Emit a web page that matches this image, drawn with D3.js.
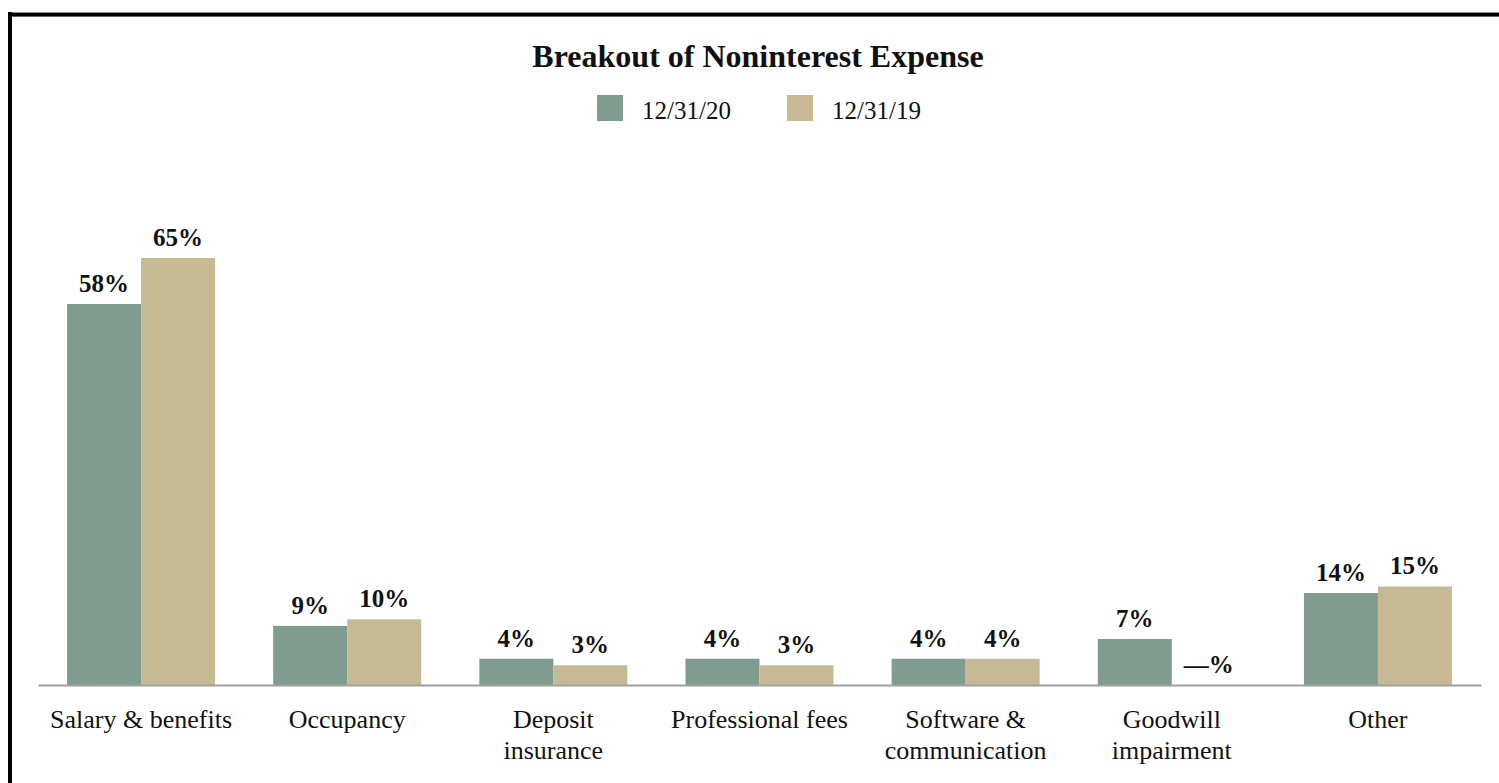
<!DOCTYPE html>
<html>
<head>
<meta charset="utf-8">
<script src="https://cdn.jsdelivr.net/npm/d3@7"></script>
<style>
  html, body { margin: 0; padding: 0; background: #fff; }
  svg { display: block; }
  text { font-family: "Liberation Serif", "Times New Roman", serif; fill: #111; }
</style>
</head>
<body>
<svg id="chart" width="1499" height="783"></svg>
<script>
// Noninterest expense categories and their share (%) per period
const categories = [
  ["Salary & benefits"],
  ["Occupancy"],
  ["Deposit", "insurance"],
  ["Professional fees"],
  ["Software &", "communication"],
  ["Goodwill", "impairment"],
  ["Other"]
];
const seriesNames = ["12/31/20", "12/31/19"];
const values2020 = [58, 9, 4, 4, 4, 7, 14];
const values2019 = [65, 10, 3, 3, 4, 0, 15];
const valueLabels2020 = ["58%", "9%", "4%", "4%", "4%", "7%", "14%"];
const valueLabels2019 = ["65%", "10%", "3%", "3%", "4%", "—%", "15%"];
const colors = ["#7f9c8f", "#c8b995"];

const svg = d3.select("#chart");
const W = 1499, H = 783;

// frame: heavy rule along the top and left edge
svg.append("rect").attr("x", 8).attr("y", 12).attr("width", W - 8).attr("height", 1).attr("fill", "#888");
svg.append("rect").attr("x", 8).attr("y", 13).attr("width", W - 8).attr("height", 3.6).attr("fill", "#000");
svg.append("rect").attr("x", 8).attr("y", 12).attr("width", 4).attr("height", H - 12).attr("fill", "#000");

// title
svg.append("text")
  .attr("x", 758).attr("y", 67)
  .attr("text-anchor", "middle")
  .attr("font-weight", "bold")
  .attr("font-size", 32)
  .text("Breakout of Noninterest Expense");

// legend
const legendX = [597, 787];
seriesNames.forEach((name, i) => {
  svg.append("rect")
    .attr("x", legendX[i]).attr("y", 95)
    .attr("width", 26).attr("height", 26)
    .attr("fill", colors[i]);
  svg.append("text")
    .attr("x", legendX[i] + 45).attr("y", 119)
    .attr("font-size", 25)
    .text(name);
});

// scales
const baseY = 685;
const x0 = d3.scaleBand()
  .domain(d3.range(categories.length))
  .range([38, 1481])
  .paddingInner(0.282)
  .paddingOuter(0.141);
const x1 = d3.scaleBand()
  .domain([0, 1])
  .range([0, x0.bandwidth()]);
const y = d3.scaleLinear()
  .domain([0, 65])
  .range([baseY, 258]);

const seriesValues = [values2020, values2019];
const seriesLabels = [valueLabels2020, valueLabels2019];

// bars and value labels
const groups = svg.append("g").selectAll("g")
  .data(categories.map((c, i) => i))
  .join("g")
  .attr("transform", i => `translate(${x0(i)},0)`);

groups.selectAll("rect")
  .data(i => [0, 1].map(s => ({ s, v: seriesValues[s][i] })))
  .join("rect")
  .attr("x", d => x1(d.s))
  .attr("y", d => y(d.v))
  .attr("width", x1.bandwidth())
  .attr("height", d => baseY - y(d.v))
  .attr("fill", d => colors[d.s]);

groups.selectAll("text.val")
  .data(i => [0, 1].map(s => ({ s, v: seriesValues[s][i], label: seriesLabels[s][i] })))
  .join("text")
  .attr("class", "val")
  .attr("x", d => x1(d.s) + x1.bandwidth() / 2)
  .attr("y", d => y(d.v) - 12)
  .attr("text-anchor", "middle")
  .attr("font-weight", "bold")
  .attr("font-size", 25)
  .text(d => d.label);

// category axis
const axis = svg.append("g")
  .attr("transform", `translate(0,${baseY})`)
  .call(d3.axisBottom(x0).tickSize(0).tickFormat(""));
axis.select(".domain").attr("stroke", "#a0a0a0").attr("stroke-width", 2);

categories.forEach((lines, i) => {
  const t = svg.append("text")
    .attr("text-anchor", "middle")
    .attr("font-size", 26)
    .attr("x", x0(i) + x0.bandwidth() / 2)
    .attr("y", 728);
  lines.forEach((ln, k) => {
    t.append("tspan")
      .attr("x", x0(i) + x0.bandwidth() / 2)
      .attr("dy", k === 0 ? 0 : 31)
      .text(ln);
  });
});
</script>
</body>
</html>
